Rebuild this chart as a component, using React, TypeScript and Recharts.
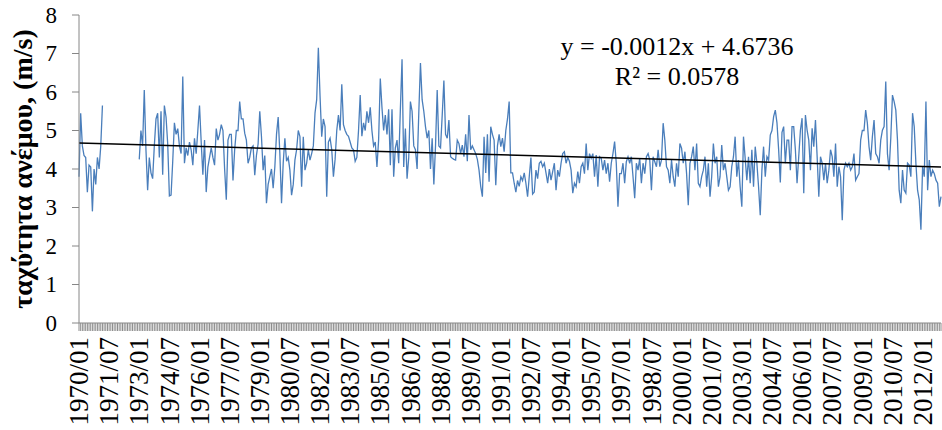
import { LineChart, Line, XAxis, YAxis, ReferenceLine } from 'recharts';

const SERIF = '"Liberation Serif", "Times New Roman", serif';

const START_YEAR = 1970;
const MONTH_COUNT = 516;

// monthly categories 1970/01 .. 2012/12
const MONTHS: string[] = Array.from({ length: MONTH_COUNT }, (_, i) => {
  const m = (i % 12) + 1;
  return `${START_YEAR + Math.floor(i / 12)}/${m < 10 ? '0' + m : m}`;
});

const TICK_LABELS = [
  '1970/01', '1971/07', '1973/01', '1974/07', '1976/01', '1977/07', '1979/01', '1980/07',
  '1982/01', '1983/07', '1985/01', '1986/07', '1988/01', '1989/07', '1991/01', '1992/07',
  '1994/01', '1995/07', '1997/01', '1998/07', '2000/01', '2001/07', '2003/01', '2004/07',
  '2006/01', '2007/07', '2009/01', '2010/07', '2012/01',
];

const Y_TICKS = [0, 1, 2, 3, 4, 5, 6, 7, 8];

// wind speed (m/s); null = missing months
const SPEED_1970S: (number | null)[] = [
  3.8, 5.45, 4.6, 4.35, 4.3, 3.4, 4.1, 4.05, 2.9, 4.0, 3.6, 4.3, 4.0, 4.6, 5.65,
  null, null, null, null, null, null, null, null, null, null, null, null, null, null, null,
  null, null, null, null, null, null,
  4.25, 5.0, 4.6, 6.05, 4.5, 3.45, 4.3, 3.9, 3.75, 4.6, 5.3, 5.45,
  4.3, 5.5, 3.85, 5.65, 5.35, 4.65, 3.3, 3.32, 4.2, 5.2, 4.9, 5.05,
  4.6, 4.4, 6.4, 4.15, 4.55, 4.35, 4.7, 4.5, 4.1, 4.8, 4.4, 5.0,
  5.65, 4.7, 3.85, 4.75, 3.4, 4.05, 4.3, 4.55, 4.3, 4.1, 5.05, 4.75,
  4.9, 5.15, 5.0, 4.0, 3.2, 4.75, 4.9, 4.9, 3.7, 4.5, 5.0, 5.0,
  5.75, 5.3, 5.3, 4.93, 4.75, 4.15, 4.3, 4.55, 4.6, 3.84, 4.35, 4.65,
  5.5, 4.85, 3.97, 4.35, 3.11, 3.6, 3.8, 4.0, 3.5, 4.05, 4.9, 5.35,
];

const SPEED_1980S = [
  4.4, 3.11, 4.15, 4.8, 4.2, 4.3, 3.97, 3.32, 3.6, 4.23, 4.5, 5.0,
  4.84, 3.54, 4.84, 3.97, 4.15, 4.5, 4.23, 4.4, 4.6, 5.45, 5.8, 7.15,
  5.9, 4.84, 5.3, 5.1, 3.28, 4.7, 4.8, 4.5, 3.8, 4.25, 5.0, 5.4,
  5.0, 6.2, 5.15, 5.0, 4.9, 4.85, 4.7, 4.55, 4.5, 4.2, 4.3, 5.0,
  5.92, 4.85, 5.2, 5.0, 5.5, 5.2, 5.6, 5.0, 4.6, 4.7, 4.05, 4.75,
  6.35, 5.6, 5.0, 5.4, 4.9, 5.55, 4.1, 5.55, 3.8, 4.55, 4.75, 4.15,
  5.55, 6.85, 4.05, 5.05, 3.75, 4.3, 5.75, 5.5, 4.6, 4.5, 4.0, 5.45,
  6.75, 5.8, 5.5, 5.1, 4.8, 5.0, 4.0, 4.8, 3.6, 4.6, 6.05, 4.6,
  4.55, 5.4, 6.3, 4.9, 4.8, 5.27, 4.32, 4.28, 4.25, 4.23, 4.75, 4.66,
  4.4, 4.62, 4.32, 4.9, 4.2, 5.4, 4.5, 4.6, 4.5, 4.4, 4.25, 3.97,
];

const SPEED_1990S = [
  3.55, 3.28, 4.84, 3.9, 4.9, 3.67, 5.1, 4.9, 4.75, 3.58, 4.6, 4.9,
  4.58, 4.8, 4.45, 5.0, 5.3, 5.75, 3.9, 3.9, 3.63, 3.4, 3.7, 3.55,
  3.8, 3.7, 3.9, 3.63, 3.28, 3.8, 4.3, 3.35, 3.4, 3.97, 3.75, 4.15,
  4.2, 4.06, 4.15, 3.9, 3.63, 4.0, 3.71, 3.93, 4.15, 3.45, 3.97, 3.8,
  4.15, 4.4, 4.45, 4.15, 4.3, 4.2, 3.97, 3.37, 3.63, 3.54, 3.93, 3.63,
  4.06, 4.15, 3.88, 4.66, 3.97, 4.4, 4.28, 4.4, 3.8, 4.36, 3.54, 4.32,
  4.28, 3.97, 4.23, 3.88, 4.15, 3.67, 4.15, 4.4, 4.71, 4.15, 3.02, 3.88,
  3.88, 4.15, 3.63, 4.19, 4.32, 4.15, 4.32, 3.8, 3.24, 4.15, 3.97, 4.28,
  3.63, 4.15, 3.88, 4.32, 4.4, 4.23, 3.45, 4.32, 4.19, 4.06, 4.5, 4.06,
  4.23, 5.19, 4.75, 4.06, 3.97, 3.63, 4.23, 3.8, 3.54, 4.15, 3.8, 4.66,
];

const SPEED_2000S = [
  4.54, 4.15, 4.45, 3.88, 3.06, 4.15, 4.32, 4.58, 3.97, 4.66, 3.63, 3.54,
  3.8, 3.97, 4.32, 3.54, 4.15, 3.28, 3.8, 4.66, 4.15, 4.32, 3.54, 3.8,
  4.62, 3.97, 4.15, 3.8, 3.45, 3.54, 4.06, 4.32, 4.84, 3.8, 4.23, 3.54,
  3.02, 4.84, 4.28, 3.71, 4.32, 3.63, 4.5, 3.54, 4.58, 4.15, 3.54, 2.8,
  3.97, 4.58, 3.8, 4.32, 4.23, 4.88, 5.0, 5.36, 5.53, 5.2, 4.5, 3.65,
  4.95, 5.1, 4.15, 4.75, 4.75, 3.97, 5.1, 5.1, 4.5, 3.63, 4.32, 5.0,
  5.32, 3.37, 5.4, 5.01, 4.75, 3.97, 5.06, 4.58, 5.27, 4.32, 3.28, 4.32,
  4.15, 3.71, 4.15, 3.63, 3.97, 4.5, 4.32, 3.8, 4.66, 3.54, 4.06, 3.8,
  2.67, 3.97, 4.15, 4.06, 4.15, 3.97, 4.06, 4.4, 3.71, 3.8, 3.88, 4.75,
  5.0, 5.0, 5.53, 5.19, 4.58, 4.23, 4.84, 5.27, 4.4, 4.32, 4.15, 4.75,
];

const SPEED_2010S = [
  5.01, 5.1, 6.27, 4.4, 3.97, 4.8, 5.92, 5.75, 5.53, 4.75, 3.45, 3.11,
  3.97, 3.45, 3.37, 4.15, 4.1, 3.8, 5.45, 5.1, 4.15, 3.45, 3.2, 2.42,
  4.06, 3.8, 5.75, 3.45, 4.23, 3.8, 3.97, 3.88, 3.71, 3.63, 3.02, 3.28,
];

const SPEED = [...SPEED_1970S, ...SPEED_1980S, ...SPEED_1990S, ...SPEED_2000S, ...SPEED_2010S];

// Excel linear trendline printed on the chart
const TREND_SLOPE = -0.0012;
const TREND_INTERCEPT = 4.6736;
const trendAt = (n: number) => TREND_SLOPE * n + TREND_INTERCEPT;

const data = MONTHS.map((month, i) => ({ month, speed: SPEED[i] ?? null }));

function MonthTick(props: any) {
  const { x, y, payload } = props;
  if (!TICK_LABELS.includes(payload.value)) return null;
  return (
    <text
      x={x}
      y={y}
      transform={`rotate(-90, ${x}, ${y})`}
      textAnchor="end"
      dy="0.34em"
      fontSize={27}
      fontFamily={SERIF}
      fill="#000"
    >
      {payload.value}
    </text>
  );
}

// y tick labels sit well left of the axis, like the Excel original
function SpeedTick(props: any) {
  const { y, payload } = props;
  return (
    <text x={57} y={y} textAnchor="end" dy="0.34em" fontSize={23} fontFamily={SERIF} fill="#000">
      {payload.value}
    </text>
  );
}

function AxisTitle(props: any) {
  const vb = props.viewBox ?? { x: 0, y: 15, width: 79, height: 308 };
  const cx = 22;
  const cy = vb.y + vb.height / 2;
  return (
    <text
      x={cx}
      y={cy}
      transform={`rotate(-90, ${cx}, ${cy})`}
      textAnchor="middle"
      dy="0.34em"
      fontSize={28}
      fontWeight="bold"
      fontFamily={SERIF}
      fill="#000"
    >
      ταχύτητα ανέμου, (m/s)
    </text>
  );
}

export default function App() {
  return (
    <div style={{ position: 'absolute', left: 0, top: 0, width: 942, height: 430, background: '#fff' }}>
      <LineChart width={942} height={430} data={data} margin={{ top: 15, right: 1, bottom: 0, left: 0 }}>
        <XAxis
          dataKey="month"
          interval={0}
          height={107}
          tickSize={8}
          tickMargin={6}
          tick={<MonthTick />}
          axisLine={{ stroke: '#868686' }}
          tickLine={{ stroke: '#8c8c8c' }}
        />
        <YAxis
          domain={[0, 8]}
          ticks={Y_TICKS}
          width={79}
          tickSize={7}
          tick={<SpeedTick />}
          axisLine={{ stroke: '#868686' }}
          tickLine={{ stroke: '#868686' }}
          label={<AxisTitle />}
        />
        <Line
          type="linear"
          dataKey="speed"
          stroke="#4A7EBB"
          strokeWidth={1.3}
          dot={false}
          activeDot={false}
          isAnimationActive={false}
        />
        <ReferenceLine
          segment={[
            { x: MONTHS[0], y: trendAt(1) },
            { x: MONTHS[MONTH_COUNT - 1], y: trendAt(MONTH_COUNT) },
          ]}
          stroke="#000"
          strokeWidth={1.5}
        />
      </LineChart>
      <svg width={942} height={430} style={{ position: 'absolute', left: 0, top: 0, pointerEvents: 'none' }}>
        <text x={677} y={55} textAnchor="middle" fontSize={26} fontFamily={SERIF} fill="#000">
          y = -0.0012x + 4.6736
        </text>
        <text x={677} y={85} textAnchor="middle" fontSize={26} fontFamily={SERIF} fill="#000">
          R² = 0.0578
        </text>
      </svg>
    </div>
  );
}
